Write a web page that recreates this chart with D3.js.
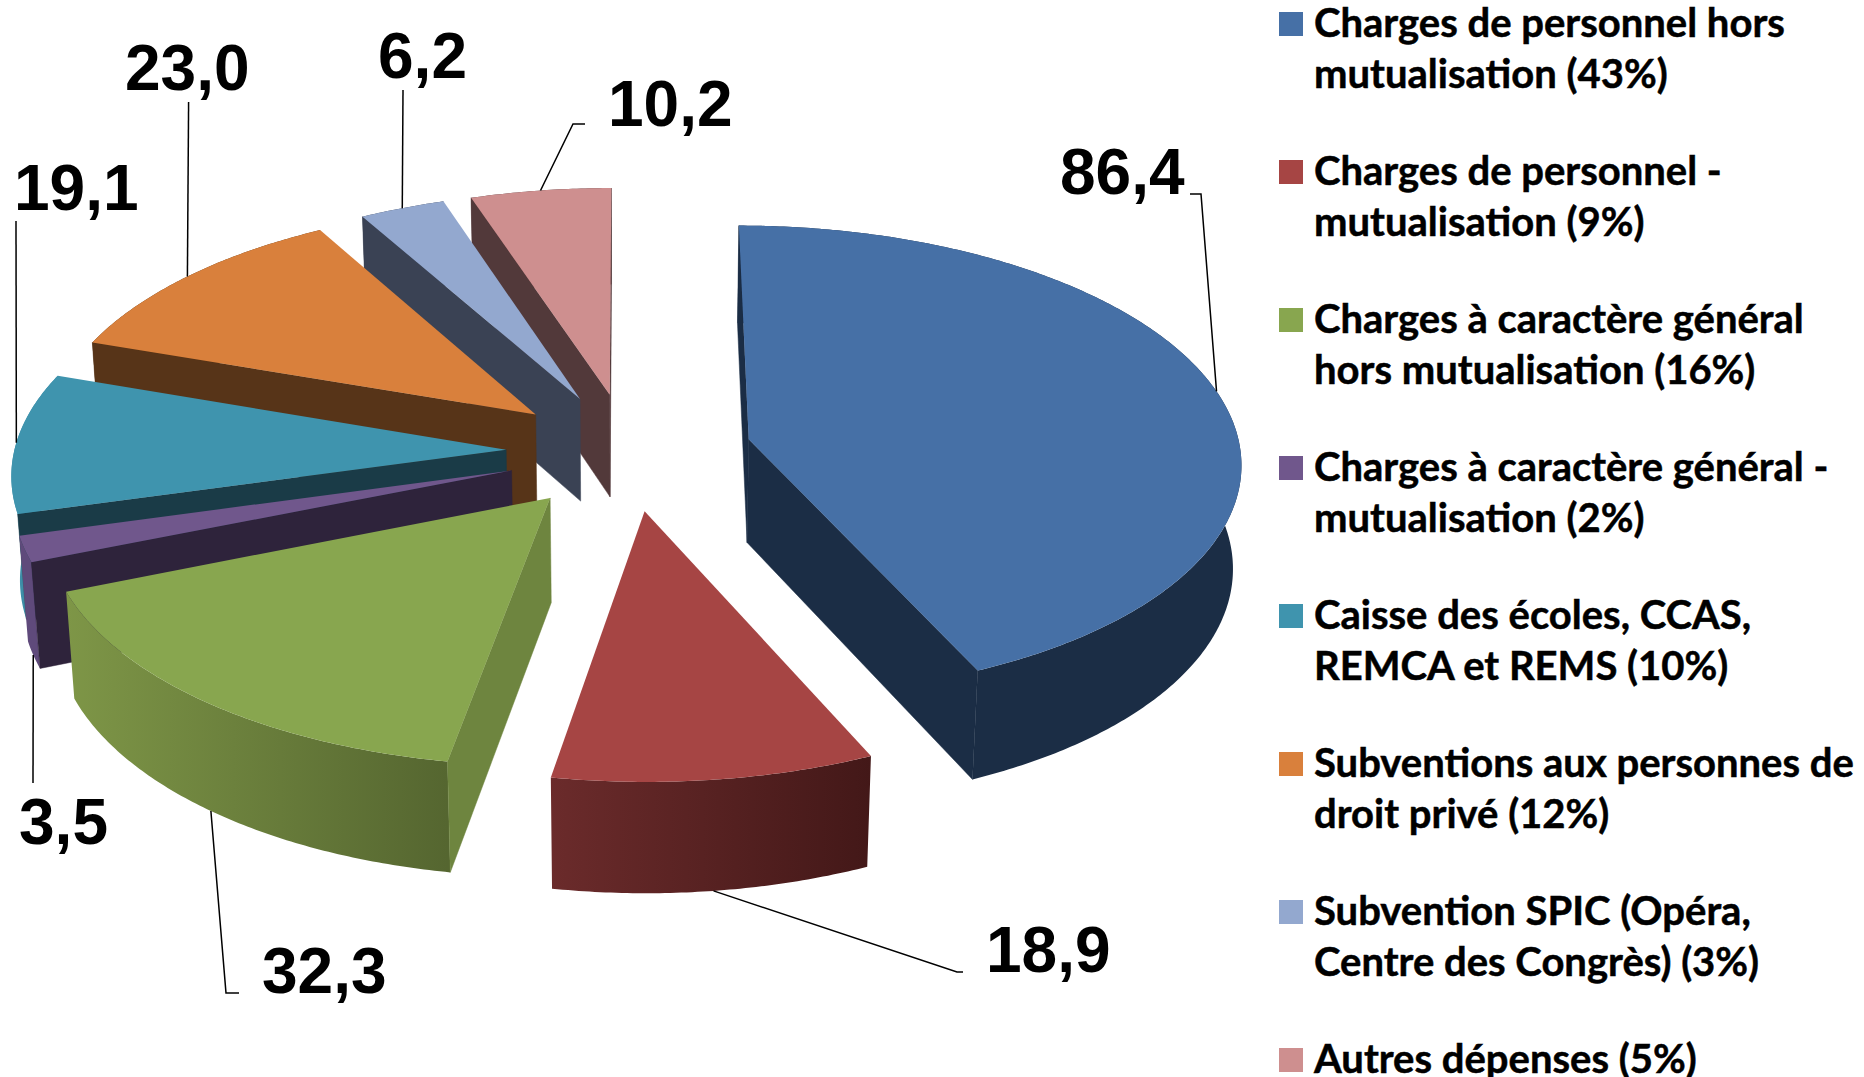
<!DOCTYPE html>
<html lang="fr">
<head>
<meta charset="utf-8">
<title>Dépenses</title>
<script src="https://cdn.jsdelivr.net/npm/d3@7"></script>
<style>
html,body{margin:0;padding:0;background:#fff;}
svg{display:block;}
</style>
</head>
<body>
<svg id="chart" width="1864" height="1077"></svg>
<script>
// ---- data
const categories = ["Charges de personnel hors mutualisation","Charges de personnel - mutualisation","Charges à caractère général hors mutualisation","Charges à caractère général - mutualisation","Caisse des écoles, CCAS, REMCA et REMS","Subventions aux personnes de droit privé","Subvention SPIC (Opéra, Centre des Congrès)","Autres dépenses"];
const values = [86.4,18.9,32.3,3.5,19.1,23.0,6.2,10.2];
const valueLabels = ["86,4","18,9","32,3","3,5","19,1","23,0","6,2","10,2"];
const legendLines = [
  ["Charges de personnel hors","mutualisation (43%)"],
  ["Charges de personnel -","mutualisation (9%)"],
  ["Charges à caractère général","hors mutualisation (16%)"],
  ["Charges à caractère général -","mutualisation (2%)"],
  ["Caisse des écoles, CCAS,","REMCA et REMS (10%)"],
  ["Subventions aux personnes de","droit privé (12%)"],
  ["Subvention SPIC (Opéra,","Centre des Congrès) (3%)"],
  ["Autres dépenses (5%)"]
];
// ---- styles
const topColors  = ["#4670a6","#a64544","#88a64f","#70578c","#3f94ae","#d9803c","#93a8cf","#ce8f8f"];
const sideColors = ["#1b2d45","#4f1f1f","#6e853f","#2e233b","#1a3b47","#573418","#3a4254","#52393a"];
const wallLeft   = ["#1b2d45","#6b2b2b","#7e9647","#5f4a7b","#3e8ea8","#573418","#3a4254","#52393a"];
const wallRight  = ["#1b2d45","#431818","#556630","#5f4a7b","#3e8ea8","#573418","#3a4254","#52393a"];
// painter's order, back to front
const drawOrder = [7,6,5,4,3,2,1,0];
// label placement: text start, baseline, and elbow of the leader line
const labelX = [1060,986,262,19,14,125,378,608];
const labelY = [194,972,993,844,210,90,78,126];
const leaderMid = [[[1201,194],[1190,194]],[[957,972],[963,972]],[[226,993],[239,993]],[[33,783]],[[16,221]],[[188.6,102]],[[403,90]],[[573,124],[585,124]]];

// ---- projection of the tilted exploded disc
const cx=629, cy=451.5, F=492, G=235, k=0.09, bottomW=0.014, depth=105, explode=0.25, rotation=0;
const xScale = d3.scaleLinear().domain([-1,1]).range([cx-F,cx+F]);
const yScale = d3.scaleLinear().domain([-1,1]).range([cy+G,cy-G]);
function project(X,Y,low){
  const w = 1 + k*Y + (low?bottomW:0);
  return [xScale(X/w), yScale(Y/w) + (low?depth/w:0)];
}
const pie = d3.pie().sort(null).startAngle(rotation).endAngle(rotation+2*Math.PI);
const arcs = pie(values);
const line = d3.line();
const svg = d3.select("#chart");
const defs = svg.append("defs");
const gPie = svg.append("g");

function sliceGeom(a){
  const mid=(a.startAngle+a.endAngle)/2;
  const ox=explode*Math.sin(mid), oy=explode*Math.cos(mid);
  const n=Math.max(8,Math.ceil((a.endAngle-a.startAngle)/0.01));
  const rim=d3.range(n+1).map(i=>{
    const t=a.startAngle+(a.endAngle-a.startAngle)*i/n;
    return [ox+Math.sin(t),oy+Math.cos(t)];
  });
  return {mid,ox,oy,rim};
}
// a radial wall shows only when the slice lies on the far side of its edge
function wallFaces(apexP,edgeP,midP){
  const ex=edgeP[0]-apexP[0], ey=edgeP[1]-apexP[1];
  const down=ex;                                 // cross(edge,(0,1))
  const body=ex*(midP[1]-apexP[1])-ey*(midP[0]-apexP[0]);
  return down*body<0;
}

drawOrder.forEach(i=>{
  const a=arcs[i], g=sliceGeom(a);
  const apex=[g.ox,g.oy];
  const first=g.rim[0], last=g.rim[g.rim.length-1];
  const s=gPie.append("g").attr("class","slice").attr("data-category",categories[i]);
  // outer wall
  const upper=g.rim.map(p=>project(p[0],p[1],false));
  const lower=g.rim.map(p=>project(p[0],p[1],true)).reverse();
  const xs=upper.map(p=>p[0]);
  const gid="wall"+i;
  const grad=defs.append("linearGradient").attr("id",gid).attr("gradientUnits","userSpaceOnUse")
    .attr("x1",d3.min(xs)).attr("x2",d3.max(xs)).attr("y1",0).attr("y2",0);
  grad.append("stop").attr("offset",0).attr("stop-color",wallLeft[i]);
  grad.append("stop").attr("offset",1).attr("stop-color",wallRight[i]);
  s.append("path").attr("fill",`url(#${gid})`).attr("d",line(upper.concat(lower))+"Z");
  // radial walls
  const apexP=project(apex[0],apex[1],false);
  const midP=upper[Math.floor(upper.length/2)];
  [first,last].forEach(p=>{
    const edgeP=project(p[0],p[1],false);
    if(!wallFaces(apexP,edgeP,midP)) return;
    s.append("path").attr("fill",sideColors[i]).attr("stroke",sideColors[i]).attr("stroke-width",0.5)
      .attr("d",line([apexP,edgeP,project(p[0],p[1],true),project(apex[0],apex[1],true)])+"Z");
  });
  // top face
  s.append("path").attr("fill",topColors[i])
    .attr("d",line([apexP].concat(upper))+"Z");
});

// ---- leader lines and value labels
const gLab = svg.append("g");
arcs.forEach((a,i)=>{
  const g=sliceGeom(a);
  const low=Math.cos(g.mid)<-0.2;
  const anchor=project(g.ox+Math.sin(g.mid),g.oy+Math.cos(g.mid),low);
  gLab.append("path").attr("fill","none").attr("stroke","#000").attr("stroke-width",1.5)
    .attr("d",line([anchor].concat(leaderMid[i])));
  gLab.append("text").attr("x",labelX[i]).attr("y",labelY[i])
    .attr("font-family","'Liberation Sans',Arial,sans-serif").attr("font-weight",700)
    .attr("font-size",64).attr("fill","#000").text(valueLabels[i]);
});

// ---- legend
const legY = d3.scaleLinear().domain([0,1]).range([12,160]);
const gLeg = svg.append("g");
legendLines.forEach((lines,i)=>{
  const y=legY(i);
  gLeg.append("rect").attr("x",1279).attr("y",y).attr("width",24).attr("height",24).attr("fill",topColors[i]);
  lines.forEach((t,j)=>{
    gLeg.append("text").attr("x",1314).attr("y",y+24.5+j*51.6)
      .attr("font-family","Lato,Carlito,Calibri,sans-serif").attr("font-weight",700)
      .attr("font-size",40).attr("fill","#000").attr("stroke","#000").attr("stroke-width",0.5).text(t);
  });
});
</script>
</body>
</html>
